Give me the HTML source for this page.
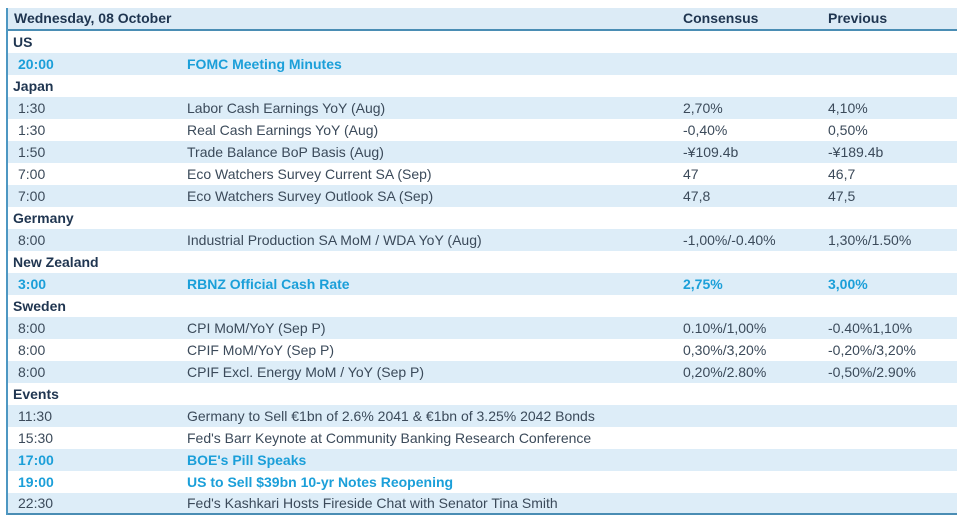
<!DOCTYPE html>
<html>
<head>
<meta charset="utf-8">
<style>
  html, body { margin:0; padding:0; background:#ffffff; }
  body { width:962px; height:517px; position:relative; overflow:hidden;
         font-family:"Liberation Sans", Arial, sans-serif; font-size:14px; color:#3b4a5a; }
  .tbl { position:absolute; left:6px; top:8px; width:951px; height:507px;
         border-left:2px solid #4d97c2; box-sizing:border-box; }
  .hdr { position:absolute; left:0; top:0; width:949px; height:21px; background:#dcebf6;
         border-bottom:2px solid #4a8db4; font-weight:bold; color:#1f3550; }
  .row { position:absolute; left:0; width:949px; height:22px; line-height:22px; }
  .sh { background:#ddedf8; }
  .c { position:absolute; top:0; white-space:nowrap; }
  .hdr .c { line-height:21px; }
  .cat { font-weight:bold; color:#1f3550; }
  .blue { font-weight:bold; color:#1b9fd9; }
  .bot { position:absolute; left:0; top:505px; width:949px; height:2px; background:#4a8db4; }
</style>
</head>
<body>
<div class="tbl">
  <div class="hdr">
    <span class="c" style="left:6px">Wednesday, 08 October</span>
    <span class="c" style="left:675px">Consensus</span>
    <span class="c" style="left:820px">Previous</span>
  </div>

  <div class="row cat" style="top:23px"><span class="c" style="left:5px">US</span></div>
  <div class="row sh blue" style="top:45px"><span class="c" style="left:10px">20:00</span><span class="c" style="left:179px">FOMC Meeting Minutes</span></div>
  <div class="row cat" style="top:67px"><span class="c" style="left:5px">Japan</span></div>
  <div class="row sh" style="top:89px"><span class="c" style="left:10px">1:30</span><span class="c" style="left:179px">Labor Cash Earnings YoY (Aug)</span><span class="c" style="left:675px">2,70%</span><span class="c" style="left:820px">4,10%</span></div>
  <div class="row" style="top:111px"><span class="c" style="left:10px">1:30</span><span class="c" style="left:179px">Real Cash Earnings YoY (Aug)</span><span class="c" style="left:675px">-0,40%</span><span class="c" style="left:820px">0,50%</span></div>
  <div class="row sh" style="top:133px"><span class="c" style="left:10px">1:50</span><span class="c" style="left:179px">Trade Balance BoP Basis (Aug)</span><span class="c" style="left:675px">-¥109.4b</span><span class="c" style="left:820px">-¥189.4b</span></div>
  <div class="row" style="top:155px"><span class="c" style="left:10px">7:00</span><span class="c" style="left:179px">Eco Watchers Survey Current SA (Sep)</span><span class="c" style="left:675px">47</span><span class="c" style="left:820px">46,7</span></div>
  <div class="row sh" style="top:177px"><span class="c" style="left:10px">7:00</span><span class="c" style="left:179px">Eco Watchers Survey Outlook SA (Sep)</span><span class="c" style="left:675px">47,8</span><span class="c" style="left:820px">47,5</span></div>
  <div class="row cat" style="top:199px"><span class="c" style="left:5px">Germany</span></div>
  <div class="row sh" style="top:221px"><span class="c" style="left:10px">8:00</span><span class="c" style="left:179px">Industrial Production SA MoM / WDA YoY (Aug)</span><span class="c" style="left:675px">-1,00%/-0.40%</span><span class="c" style="left:820px">1,30%/1.50%</span></div>
  <div class="row cat" style="top:243px"><span class="c" style="left:5px">New Zealand</span></div>
  <div class="row sh blue" style="top:265px"><span class="c" style="left:10px">3:00</span><span class="c" style="left:179px">RBNZ Official Cash Rate</span><span class="c" style="left:675px">2,75%</span><span class="c" style="left:820px">3,00%</span></div>
  <div class="row cat" style="top:287px"><span class="c" style="left:5px">Sweden</span></div>
  <div class="row sh" style="top:309px"><span class="c" style="left:10px">8:00</span><span class="c" style="left:179px">CPI MoM/YoY (Sep P)</span><span class="c" style="left:675px">0.10%/1,00%</span><span class="c" style="left:820px">-0.40%1,10%</span></div>
  <div class="row" style="top:331px"><span class="c" style="left:10px">8:00</span><span class="c" style="left:179px">CPIF MoM/YoY (Sep P)</span><span class="c" style="left:675px">0,30%/3,20%</span><span class="c" style="left:820px">-0,20%/3,20%</span></div>
  <div class="row sh" style="top:353px"><span class="c" style="left:10px">8:00</span><span class="c" style="left:179px">CPIF Excl. Energy MoM / YoY (Sep P)</span><span class="c" style="left:675px">0,20%/2.80%</span><span class="c" style="left:820px">-0,50%/2.90%</span></div>
  <div class="row cat" style="top:375px"><span class="c" style="left:5px">Events</span></div>
  <div class="row sh" style="top:397px"><span class="c" style="left:10px">11:30</span><span class="c" style="left:179px">Germany to Sell €1bn of 2.6% 2041 &amp; €1bn of 3.25% 2042 Bonds</span></div>
  <div class="row" style="top:419px"><span class="c" style="left:10px">15:30</span><span class="c" style="left:179px">Fed's Barr Keynote at Community Banking Research Conference</span></div>
  <div class="row sh blue" style="top:441px"><span class="c" style="left:10px">17:00</span><span class="c" style="left:179px">BOE's Pill Speaks</span></div>
  <div class="row blue" style="top:463px"><span class="c" style="left:10px">19:00</span><span class="c" style="left:179px">US to Sell $39bn 10-yr Notes Reopening</span></div>
  <div class="row sh" style="top:485px; height:20px; line-height:20px"><span class="c" style="left:10px">22:30</span><span class="c" style="left:179px">Fed's Kashkari Hosts Fireside Chat with Senator Tina Smith</span></div>
  <div class="bot"></div>
</div>
</body>
</html>
